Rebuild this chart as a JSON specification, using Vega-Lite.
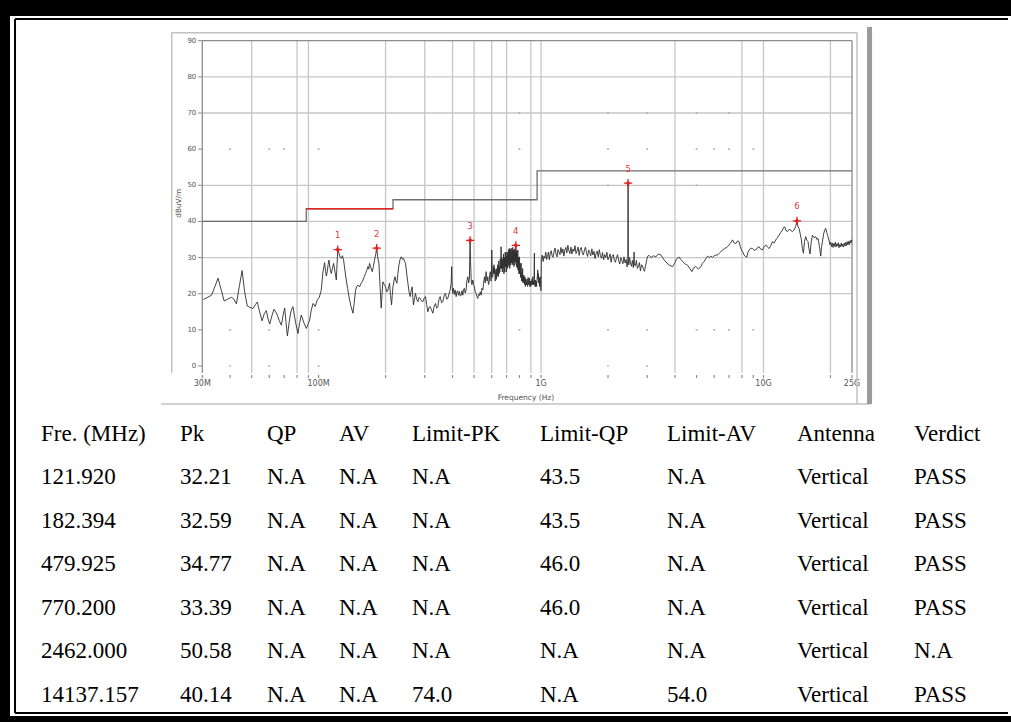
{
"$schema": "https://vega.github.io/schema/vega-lite/v6.json",
"width": 1001, "height": 700,
"autosize": {"type": "none"},
"padding": {"left": 10, "top": 16, "right": 0, "bottom": 6},
"background": "black",
"config": {"view": {"fill": "white", "stroke": null}},
"datasets": {
"tr": [
{"f":30.3,"v":18.4},{"f":31.5,"v":18.9},{"f":33.0,"v":19.6},{"f":34.2,"v":22.0},{"f":35.3,"v":24.3},{"f":36.5,"v":21.0},{"f":37.6,"v":18.0},{"f":39.0,"v":18.5},{"f":40.6,"v":19.0},{"f":41.6,"v":18.5},{"f":42.7,"v":17.2},{"f":44.0,"v":22.0},{"f":45.3,"v":26.4},{"f":46.5,"v":20.5},{"f":47.8,"v":16.6},{"f":49.2,"v":16.2},{"f":50.7,"v":15.9},{"f":52.0,"v":17.0},{"f":53.0,"v":17.7},{"f":54.3,"v":15.0},{"f":55.7,"v":12.5},{"f":57.0,"v":14.5},{"f":58.2,"v":15.3},{"f":59.3,"v":13.0},{"f":60.3,"v":11.6},{"f":61.6,"v":13.8},{"f":63.0,"v":15.7},{"f":64.1,"v":15.0},{"f":65.2,"v":14.1},{"f":66.6,"v":12.5},{"f":68.0,"v":11.3},{"f":69.2,"v":14.0},{"f":70.4,"v":16.0},{"f":71.4,"v":12.0},{"f":72.4,"v":8.3},{"f":73.7,"v":12.0},{"f":74.9,"v":14.8},{"f":75.8,"v":15.8},{"f":76.7,"v":16.4},{"f":78.8,"v":12.0},{"f":80.8,"v":9.0},{"f":82.2,"v":12.0},{"f":83.6,"v":14.1},{"f":85.8,"v":12.0},{"f":88.1,"v":10.4},{"f":89.6,"v":11.5},{"f":91.1,"v":12.7},{"f":92.7,"v":15.5},{"f":94.4,"v":17.3},{"f":96.5,"v":16.5},{"f":98.7,"v":18.3},{"f":100.7,"v":19.0},{"f":102.8,"v":21.0},{"f":104.6,"v":26.0},{"f":106.4,"v":28.6},{"f":107.4,"v":26.5},{"f":108.3,"v":24.9},{"f":109.4,"v":26.1},{"f":110.3,"v":28.0},{"f":111.3,"v":29.3},{"f":112.6,"v":27.0},{"f":114.0,"v":25.6},{"f":115.4,"v":27.0},{"f":116.8,"v":28.4},{"f":118.5,"v":26.0},{"f":120.1,"v":23.8},{"f":121.0,"v":28.0},{"f":121.92,"v":32.21},{"f":123.5,"v":31.2},{"f":125.0,"v":30.0},{"f":126.5,"v":29.8},{"f":128.0,"v":30.5},{"f":129.5,"v":29.3},{"f":131.3,"v":26.5},{"f":133.1,"v":23.8},{"f":135.0,"v":21.5},{"f":136.9,"v":19.2},{"f":139.8,"v":16.5},{"f":142.7,"v":14.6},{"f":144.6,"v":17.5},{"f":146.6,"v":21.0},{"f":148.5,"v":22.0},{"f":150.3,"v":22.4},{"f":152.8,"v":21.9},{"f":155.0,"v":22.8},{"f":157.1,"v":23.3},{"f":160.0,"v":24.5},{"f":162.6,"v":25.6},{"f":164.6,"v":26.5},{"f":166.7,"v":27.5},{"f":168.0,"v":26.8},{"f":169.4,"v":28.4},{"f":171.8,"v":27.2},{"f":174.2,"v":26.1},{"f":176.3,"v":27.5},{"f":178.4,"v":29.3},{"f":180.5,"v":30.8},{"f":182.394,"v":32.59},{"f":184.5,"v":30.0},{"f":186.7,"v":28.4},{"f":188.9,"v":22.0},{"f":191.2,"v":16.0},{"f":192.9,"v":20.0},{"f":194.6,"v":23.3},{"f":197.3,"v":22.5},{"f":200.0,"v":21.9},{"f":202.5,"v":20.5},{"f":205.0,"v":21.0},{"f":206.7,"v":22.0},{"f":208.5,"v":22.9},{"f":210.6,"v":19.5},{"f":212.8,"v":16.9},{"f":214.3,"v":19.5},{"f":215.9,"v":21.9},{"f":218.1,"v":23.5},{"f":220.4,"v":24.7},{"f":222.6,"v":23.5},{"f":224.9,"v":22.9},{"f":227.2,"v":25.5},{"f":229.6,"v":27.9},{"f":232.4,"v":29.5},{"f":235.2,"v":30.2},{"f":238.0,"v":29.5},{"f":240.8,"v":29.8},{"f":243.3,"v":29.0},{"f":245.9,"v":28.4},{"f":249.0,"v":25.5},{"f":252.0,"v":22.9},{"f":255.0,"v":20.5},{"f":258.0,"v":19.2},{"f":260.7,"v":20.8},{"f":263.4,"v":21.9},{"f":265.2,"v":19.0},{"f":267.0,"v":16.9},{"f":269.8,"v":18.5},{"f":272.6,"v":20.1},{"f":276.0,"v":18.5},{"f":279.4,"v":17.8},{"f":282.8,"v":19.0},{"f":286.2,"v":18.7},{"f":290.2,"v":18.0},{"f":294.3,"v":17.8},{"f":298.3,"v":18.8},{"f":302.3,"v":19.2},{"f":306.1,"v":17.0},{"f":309.9,"v":15.0},{"f":313.6,"v":16.2},{"f":317.4,"v":16.4},{"f":321.9,"v":15.5},{"f":326.4,"v":14.6},{"f":330.8,"v":16.5},{"f":335.3,"v":17.3},{"f":339.5,"v":16.0},{"f":343.7,"v":16.4},{"f":347.8,"v":18.5},{"f":352.0,"v":19.2},{"f":357.0,"v":17.5},{"f":361.9,"v":17.8},{"f":366.8,"v":19.5},{"f":371.8,"v":20.1},{"f":376.4,"v":18.5},{"f":381.1,"v":18.7},{"f":385.7,"v":20.0},{"f":390.3,"v":21.0},{"f":394.5,"v":23.0},{"f":396.5,"v":27.5},{"f":398.5,"v":22.0},{"f":401.3,"v":20.1},{"f":404.0,"v":21.5},{"f":408,"v":19.8},{"f":411.5,"v":21.0},{"f":415.2,"v":19.2},{"f":418.5,"v":20.5},{"f":422,"v":20.8},{"f":425.8,"v":19.6},{"f":429.6,"v":20.6},{"f":433,"v":19.4},{"f":437,"v":19.5},{"f":441,"v":20.8},{"f":445.0,"v":19.6},{"f":448.5,"v":21.2},{"f":452,"v":21.5},{"f":456,"v":20.2},{"f":460.5,"v":21.0},{"f":464,"v":23.5},{"f":468.7,"v":24.7},{"f":473,"v":23.0},{"f":476.4,"v":24.3},{"f":478,"v":30.0},{"f":479.925,"v":34.77},{"f":482,"v":29.0},{"f":485,"v":24.0},{"f":489,"v":22.5},{"f":493.6,"v":23.8},{"f":497.5,"v":22.5},{"f":501.8,"v":21.9},{"f":506,"v":20.5},{"f":510.7,"v":20.1},{"f":515,"v":19.2},{"f":519.7,"v":18.7},{"f":524,"v":19.8},{"f":528,"v":19.5},{"f":533,"v":20.5},{"f":537.8,"v":19.6},{"f":542.5,"v":21.5},{"f":547.3,"v":21.0},{"f":552,"v":23.0},{"f":556.5,"v":24.7},{"f":561,"v":23.0},{"f":566.3,"v":26.1},{"f":571,"v":23.5},{"f":576.4,"v":24.7},{"f":580,"v":22.5},{"f":584,"v":23.0},{"f":588,"v":25.5},{"f":592.0,"v":26.1},{"f":596,"v":23.5},{"f":598.5,"v":25.0},{"f":600.6,"v":32.1},{"f":603,"v":24.5},{"f":606.9,"v":24.7},{"f":609.5,"v":27.5},{"f":612,"v":25.5},{"f":614.5,"v":28.0},{"f":617.0,"v":25.6},{"f":619.5,"v":27.0},{"f":622,"v":23.5},{"f":625,"v":26.0},{"f":627.9,"v":26.6},{"f":630.5,"v":24.0},{"f":633,"v":27.0},{"f":636,"v":25.0},{"f":639.2,"v":28.0},{"f":642,"v":24.7},{"f":645,"v":29.0},{"f":647.5,"v":25.5},{"f":649.9,"v":27.5},{"f":652.5,"v":26.0},{"f":655,"v":29.5},{"f":658,"v":27.0},{"f":661.4,"v":33.0},{"f":663.5,"v":27.0},{"f":667,"v":30.0},{"f":670,"v":26.0},{"f":673.0,"v":29.5},{"f":675.5,"v":27.0},{"f":678,"v":31.0},{"f":681,"v":25.5},{"f":684.3,"v":30.0},{"f":687,"v":26.0},{"f":690,"v":31.5},{"f":693,"v":27.5},{"f":696.4,"v":31.5},{"f":699,"v":26.0},{"f":702,"v":30.5},{"f":705,"v":27.0},{"f":708.8,"v":31.5},{"f":711,"v":27.5},{"f":714,"v":32.2},{"f":717,"v":28.0},{"f":720.6,"v":32.5},{"f":723.5,"v":27.0},{"f":727,"v":32.0},{"f":730,"v":28.0},{"f":733.4,"v":32.6},{"f":736.5,"v":28.5},{"f":740,"v":32.3},{"f":743,"v":28.0},{"f":746.3,"v":32.8},{"f":749,"v":28.5},{"f":752,"v":32.0},{"f":755.5,"v":27.5},{"f":758.9,"v":32.4},{"f":762,"v":28.0},{"f":765,"v":31.5},{"f":767.5,"v":29.0},{"f":770.2,"v":33.39},{"f":772.5,"v":28.5},{"f":775,"v":31.5},{"f":777,"v":27.5},{"f":779,"v":32.0},{"f":782.5,"v":27.0},{"f":786.1,"v":32.1},{"f":789,"v":26.5},{"f":792,"v":30.0},{"f":795.5,"v":25.5},{"f":799.2,"v":30.2},{"f":802,"v":25.5},{"f":805,"v":28.5},{"f":809,"v":24.5},{"f":813.4,"v":28.4},{"f":817,"v":23.5},{"f":821.8,"v":26.0},{"f":824,"v":23.5},{"f":826,"v":27.0},{"f":829.5,"v":23.0},{"f":832.9,"v":25.0},{"f":836.5,"v":23.0},{"f":840,"v":25.0},{"f":844,"v":22.5},{"f":847.7,"v":24.5},{"f":851,"v":22.0},{"f":855,"v":24.0},{"f":860,"v":22.5},{"f":865.3,"v":24.0},{"f":870,"v":22.0},{"f":875,"v":24.5},{"f":880,"v":22.5},{"f":886.2,"v":24.3},{"f":890,"v":22.0},{"f":895,"v":23.5},{"f":898.5,"v":22.0},{"f":902.0,"v":23.5},{"f":906,"v":22.5},{"f":910,"v":24.0},{"f":914,"v":22.5},{"f":917.9,"v":24.7},{"f":921.5,"v":22.5},{"f":925,"v":23.5},{"f":929,"v":22.5},{"f":933.3,"v":31.2},{"f":935,"v":24.0},{"f":937,"v":23.0},{"f":940,"v":22.0},{"f":943.0,"v":23.8},{"f":946.5,"v":22.0},{"f":950,"v":23.5},{"f":954.5,"v":22.0},{"f":959.4,"v":23.8},{"f":963,"v":25.0},{"f":966,"v":26.6},{"f":969,"v":24.0},{"f":972.5,"v":25.6},{"f":976,"v":23.0},{"f":980,"v":24.5},{"f":984,"v":22.0},{"f":988,"v":24.0},{"f":992.9,"v":24.7},{"f":996,"v":22.0},{"f":999,"v":20.8},{"f":1001,"v":22.5},
{"f":1003,"v":29.3},{"f":1012,"v":30.7},{"f":1022,"v":28.9},{"f":1031,"v":30.4},{"f":1040,"v":29.8},{"f":1050,"v":31.5},{"f":1060,"v":29.5},{"f":1069,"v":30.3},{"f":1079,"v":31.5},{"f":1090,"v":29.4},{"f":1100,"v":31.3},{"f":1111,"v":31.9},{"f":1122,"v":30.4},{"f":1133,"v":30.1},{"f":1144,"v":31.6},{"f":1156,"v":32.6},{"f":1168,"v":31.0},{"f":1180,"v":30.2},{"f":1192,"v":32.2},{"f":1204,"v":31.5},{"f":1216,"v":30.8},{"f":1228,"v":32.8},{"f":1241,"v":31.2},{"f":1254,"v":32.4},{"f":1267,"v":30.4},{"f":1280,"v":32.1},{"f":1293,"v":32.8},{"f":1306,"v":31.3},{"f":1320,"v":33.4},{"f":1334,"v":31.9},{"f":1348,"v":31.1},{"f":1362,"v":32.9},{"f":1376,"v":31.0},{"f":1391,"v":32.4},{"f":1406,"v":31.7},{"f":1421,"v":33.3},{"f":1436,"v":31.1},{"f":1452,"v":31.8},{"f":1468,"v":32.9},{"f":1484,"v":30.6},{"f":1500,"v":32.4},{"f":1516,"v":32.8},{"f":1533,"v":31.2},{"f":1550,"v":30.7},{"f":1567,"v":32.1},{"f":1584,"v":32.9},{"f":1601,"v":31.3},{"f":1619,"v":30.3},{"f":1637,"v":32.1},{"f":1655,"v":31.4},{"f":1673,"v":30.5},{"f":1692,"v":32.4},{"f":1711,"v":30.7},{"f":1730,"v":31.7},{"f":1749,"v":29.7},{"f":1768,"v":31.2},{"f":1788,"v":31.8},{"f":1808,"v":30.2},{"f":1828,"v":32.2},{"f":1848,"v":30.6},{"f":1869,"v":29.8},{"f":1890,"v":31.4},{"f":1911,"v":29.4},{"f":1932,"v":30.8},{"f":1954,"v":30.0},{"f":1976,"v":31.5},{"f":1998,"v":29.4},{"f":2020,"v":30.0},{"f":2043,"v":31.0},{"f":2066,"v":28.7},{"f":2089,"v":30.4},{"f":2112,"v":30.8},{"f":2136,"v":29.2},{"f":2160,"v":28.7},{"f":2184,"v":30.0},{"f":2208,"v":30.8},{"f":2233,"v":29.2},{"f":2258,"v":28.2},{"f":2283,"v":30.0},{"f":2308,"v":29.2},{"f":2334,"v":28.3},{"f":2360,"v":30.2},{"f":2386,"v":28.5},{"f":2412,"v":29.5},{"f":2438,"v":27.4},{"f":2455,"v":29.3},{"f":2462,"v":50.58},{"f":2469,"v":29.6},{"f":2480,"v":28.0},{"f":2500,"v":30.0},{"f":2525,"v":28.5},{"f":2550,"v":27.6},{"f":2575,"v":29.2},{"f":2600,"v":27.2},{"f":2620,"v":31.5},{"f":2628,"v":27.9},{"f":2655,"v":27.7},{"f":2683,"v":29.2},{"f":2711,"v":27.0},{"f":2740,"v":27.6},{"f":2769,"v":28.6},{"f":2798,"v":26.3},{"f":2828,"v":28.0},{"f":2858,"v":27.8},{"f":2888,"v":26.7},{"f":2918,"v":26.2},{"f":2945,"v":27.6},{"f":2970,"v":28.5},{"f":2990,"v":29.5},{"f":3015,"v":30.4},{"f":3060,"v":30.6},{"f":3119,"v":30.0},{"f":3200,"v":30.5},{"f":3284,"v":30.2},{"f":3370,"v":31.0},{"f":3458,"v":30.7},{"f":3520,"v":30.0},{"f":3578,"v":29.3},{"f":3680,"v":28.5},{"f":3769,"v":27.9},{"f":3904,"v":27.5},{"f":4000,"v":28.6},{"f":4039,"v":29.3},{"f":4100,"v":29.8},{"f":4179,"v":30.1},{"f":4250,"v":29.5},{"f":4329,"v":28.9},{"f":4450,"v":28.2},{"f":4557,"v":27.9},{"f":4660,"v":27.0},{"f":4766,"v":26.1},{"f":4860,"v":27.2},{"f":4966,"v":27.5},{"f":5100,"v":26.8},{"f":5231,"v":27.5},{"f":5320,"v":28.4},{"f":5413,"v":28.9},{"f":5510,"v":29.8},{"f":5608,"v":30.4},{"f":5700,"v":30.0},{"f":5802,"v":30.4},{"f":5900,"v":30.0},{"f":6000,"v":30.5},{"f":6108,"v":30.7},{"f":6220,"v":30.7},{"f":6380,"v":31.4},{"f":6540,"v":32.1},{"f":6700,"v":32.5},{"f":6890,"v":33.0},{"f":7070,"v":33.8},{"f":7260,"v":34.9},{"f":7380,"v":34.0},{"f":7510,"v":33.9},{"f":7640,"v":34.6},{"f":7770,"v":34.4},{"f":7870,"v":33.0},{"f":7960,"v":32.1},{"f":8070,"v":31.5},{"f":8180,"v":30.7},{"f":8300,"v":30.3},{"f":8410,"v":30.1},{"f":8500,"v":31.3},{"f":8610,"v":32.1},{"f":8770,"v":32.6},{"f":8930,"v":32.5},{"f":9080,"v":32.0},{"f":9230,"v":32.1},{"f":9400,"v":32.8},{"f":9550,"v":33.0},{"f":9720,"v":32.3},{"f":9900,"v":32.1},{"f":10070,"v":33.0},{"f":10240,"v":33.5},{"f":10420,"v":32.9},{"f":10600,"v":32.5},{"f":10790,"v":33.3},{"f":10970,"v":34.4},{"f":11160,"v":34.0},{"f":11360,"v":34.9},{"f":11550,"v":35.5},{"f":11750,"v":36.2},{"f":11960,"v":37.0},{"f":12170,"v":37.6},{"f":12300,"v":38.3},{"f":12460,"v":38.5},{"f":12640,"v":37.4},{"f":12820,"v":37.2},{"f":13040,"v":37.8},{"f":13260,"v":37.6},{"f":13490,"v":37.2},{"f":13720,"v":37.6},{"f":13950,"v":38.6},{"f":14137.157,"v":40.14},{"f":14300,"v":38.5},{"f":14450,"v":38.1},{"f":14630,"v":36.5},{"f":14810,"v":34.9},{"f":14960,"v":32.5},{"f":15120,"v":31.2},{"f":15300,"v":34.5},{"f":15480,"v":35.8},{"f":15670,"v":34.8},{"f":15860,"v":34.4},{"f":16000,"v":32.5},{"f":16190,"v":31.0},{"f":16400,"v":34.5},{"f":16600,"v":36.2},{"f":16880,"v":35.5},{"f":17170,"v":35.8},{"f":17380,"v":35.0},{"f":17590,"v":35.3},{"f":17850,"v":33.0},{"f":18090,"v":30.4},{"f":18250,"v":33.0},{"f":18410,"v":34.4},{"f":18630,"v":36.5},{"f":18850,"v":37.6},{"f":19050,"v":38.1},{"f":19240,"v":37.0},{"f":19500,"v":35.8},{"f":19700,"v":34.8},{"f":19910,"v":33.5},{"f":20100,"v":34.2},{"f":20250,"v":33.0},{"f":20400,"v":34.0},{"f":20560,"v":32.8},{"f":20720,"v":33.9},{"f":20880,"v":33.1},{"f":21040,"v":34.3},{"f":21200,"v":32.9},{"f":21360,"v":33.8},{"f":21520,"v":33.2},{"f":21680,"v":34.1},{"f":21850,"v":32.7},{"f":22020,"v":33.6},{"f":22190,"v":33.0},{"f":22360,"v":34.0},{"f":22530,"v":33.1},{"f":22700,"v":33.7},{"f":22880,"v":32.9},{"f":23060,"v":34.0},{"f":23240,"v":33.2},{"f":23420,"v":34.2},{"f":23600,"v":33.3},{"f":23790,"v":34.4},{"f":23970,"v":33.5},{"f":24160,"v":34.5},{"f":24350,"v":33.6},{"f":24540,"v":34.7},{"f":24730,"v":34.0},{"f":24900,"v":34.9},{"f":25000,"v":34.5}
],
"mk": [{"n":"1","f":121.92,"v":32.21},{"n":"2","f":182.394,"v":32.59},{"n":"3","f":479.925,"v":34.77},{"n":"4","f":770.2,"v":33.39},{"n":"5","f":2462,"v":50.58},{"n":"6","f":14137.157,"v":40.14}],
"lim": [{"f":30,"v":40},{"f":88,"v":43.5},{"f":216,"v":46},{"f":960,"v":54},{"f":25000,"v":54}],
"limr": [{"f":88,"v":43.5},{"f":216,"v":43.5}],
"vg": [{"f":50},{"f":80},{"f":90},{"f":200},{"f":300},{"f":400},{"f":500},{"f":600},{"f":700},{"f":900},{"f":1000},{"f":4000},{"f":8000},{"f":10000},{"f":20000}],
"hg": [{"v":20},{"v":30},{"v":40},{"v":50},{"v":70},{"v":80}],
"yl": [{"v":0},{"v":10},{"v":20},{"v":30},{"v":40},{"v":50},{"v":60},{"v":70},{"v":80},{"v":90}],
"xl": [{"f":30,"l":"30M"},{"f":100,"l":"100M"},{"f":1000,"l":"1G"},{"f":10000,"l":"10G"},{"f":25000,"l":"25G"}],
"xt": [{"f":30},{"f":40},{"f":50},{"f":60},{"f":70},{"f":80},{"f":90},{"f":100},{"f":200},{"f":300},{"f":400},{"f":500},{"f":600},{"f":700},{"f":800},{"f":900},{"f":1000},{"f":2000},{"f":3000},{"f":4000},{"f":5000},{"f":6000},{"f":7000},{"f":8000},{"f":9000},{"f":10000},{"f":20000},{"f":25000}],
"dots": [{"f":40,"v":10},{"f":60,"v":10},{"f":100,"v":10},{"f":800,"v":10},{"f":2000,"v":10},{"f":3000,"v":10},{"f":5000,"v":10},{"f":6000,"v":10},{"f":7000,"v":10},{"f":9000,"v":10},{"f":40,"v":60},{"f":60,"v":60},{"f":70,"v":60},{"f":100,"v":60},{"f":800,"v":60},{"f":2000,"v":60},{"f":3000,"v":60},{"f":5000,"v":60},{"f":6000,"v":60},{"f":7000,"v":60},{"f":9000,"v":60},{"f":800,"v":70},{"f":2000,"v":70},{"f":3000,"v":70},{"f":5000,"v":70},{"f":7000,"v":70},{"f":2000,"v":50},{"f":5000,"v":50},{"f":2000,"v":0},{"f":3000,"v":0},{"f":40,"v":0},{"f":60,"v":0},{"f":100,"v":0}],
"tbl": [
{"r":0,"c":0,"t":"Fre. (MHz)"},{"r":0,"c":1,"t":"Pk"},{"r":0,"c":2,"t":"QP"},{"r":0,"c":3,"t":"AV"},{"r":0,"c":4,"t":"Limit-PK"},{"r":0,"c":5,"t":"Limit-QP"},{"r":0,"c":6,"t":"Limit-AV"},{"r":0,"c":7,"t":"Antenna"},{"r":0,"c":8,"t":"Verdict"},
{"r":1,"c":0,"t":"121.920"},{"r":1,"c":1,"t":"32.21"},{"r":1,"c":2,"t":"N.A"},{"r":1,"c":3,"t":"N.A"},{"r":1,"c":4,"t":"N.A"},{"r":1,"c":5,"t":"43.5"},{"r":1,"c":6,"t":"N.A"},{"r":1,"c":7,"t":"Vertical"},{"r":1,"c":8,"t":"PASS"},
{"r":2,"c":0,"t":"182.394"},{"r":2,"c":1,"t":"32.59"},{"r":2,"c":2,"t":"N.A"},{"r":2,"c":3,"t":"N.A"},{"r":2,"c":4,"t":"N.A"},{"r":2,"c":5,"t":"43.5"},{"r":2,"c":6,"t":"N.A"},{"r":2,"c":7,"t":"Vertical"},{"r":2,"c":8,"t":"PASS"},
{"r":3,"c":0,"t":"479.925"},{"r":3,"c":1,"t":"34.77"},{"r":3,"c":2,"t":"N.A"},{"r":3,"c":3,"t":"N.A"},{"r":3,"c":4,"t":"N.A"},{"r":3,"c":5,"t":"46.0"},{"r":3,"c":6,"t":"N.A"},{"r":3,"c":7,"t":"Vertical"},{"r":3,"c":8,"t":"PASS"},
{"r":4,"c":0,"t":"770.200"},{"r":4,"c":1,"t":"33.39"},{"r":4,"c":2,"t":"N.A"},{"r":4,"c":3,"t":"N.A"},{"r":4,"c":4,"t":"N.A"},{"r":4,"c":5,"t":"46.0"},{"r":4,"c":6,"t":"N.A"},{"r":4,"c":7,"t":"Vertical"},{"r":4,"c":8,"t":"PASS"},
{"r":5,"c":0,"t":"2462.000"},{"r":5,"c":1,"t":"50.58"},{"r":5,"c":2,"t":"N.A"},{"r":5,"c":3,"t":"N.A"},{"r":5,"c":4,"t":"N.A"},{"r":5,"c":5,"t":"N.A"},{"r":5,"c":6,"t":"N.A"},{"r":5,"c":7,"t":"Vertical"},{"r":5,"c":8,"t":"N.A"},
{"r":6,"c":0,"t":"14137.157"},{"r":6,"c":1,"t":"40.14"},{"r":6,"c":2,"t":"N.A"},{"r":6,"c":3,"t":"N.A"},{"r":6,"c":4,"t":"74.0"},{"r":6,"c":5,"t":"N.A"},{"r":6,"c":6,"t":"54.0"},{"r":6,"c":7,"t":"Vertical"},{"r":6,"c":8,"t":"PASS"}
]
},
"layer": [
{
"layer": [
{"data": {"name": "vg"}, "mark": {"type": "rule", "color": "#c6c6c6", "strokeWidth": 1.3},
 "encoding": {"x": {"field": "f", "type": "quantitative", "scale": {"type": "log", "domain": [30, 25000], "range": [192.3, 842]}, "axis": null},
  "y": {"datum": -1.9, "scale": {"domain": [0, 90], "range": [350, 24.7], "nice": false, "zero": false}, "axis": null}, "y2": {"datum": 90}}},
{"data": {"name": "hg"}, "mark": {"type": "rule", "color": "#c6c6c6", "strokeWidth": 1.3},
 "encoding": {"y": {"field": "v", "type": "quantitative", "scale": {"domain": [0, 90], "range": [350, 24.7], "nice": false, "zero": false}, "axis": null},
  "x": {"datum": 30, "scale": {"type": "log", "domain": [30, 25000], "range": [192.3, 842]}, "axis": null}, "x2": {"datum": 25000}}},
{"data": {"name": "dots"}, "mark": {"type": "point", "shape": "square", "filled": true, "size": 3, "color": "#b0b0b0", "opacity": 1},
 "encoding": {"x": {"field": "f", "type": "quantitative", "scale": {"type": "log", "domain": [30, 25000], "range": [192.3, 842]}, "axis": null},
  "y": {"field": "v", "type": "quantitative", "scale": {"domain": [0, 90], "range": [350, 24.7], "nice": false, "zero": false}, "axis": null}}},
{"data": {"values": [{"k": "top"}]}, "mark": {"type": "rule", "color": "#8c8c8c", "strokeWidth": 1.3},
 "encoding": {"x": {"datum": 30, "scale": {"type": "log", "domain": [30, 25000], "range": [192.3, 842]}, "axis": null}, "x2": {"datum": 25000},
  "y": {"datum": 90, "scale": {"domain": [0, 90], "range": [350, 24.7], "nice": false, "zero": false}, "axis": null}}},
{"data": {"name": "xt"}, "mark": {"type": "rule", "color": "#8a8a8a", "strokeWidth": 1.2},
 "encoding": {"x": {"field": "f", "type": "quantitative", "scale": {"type": "log", "domain": [30, 25000], "range": [192.3, 842]}, "axis": null},
  "y": {"datum": -2.5, "scale": {"domain": [0, 90], "range": [350, 24.7], "nice": false, "zero": false}, "axis": null}, "y2": {"datum": -3.3}}},
{"data": {"values": [{"e": 30}, {"e": 25000}]}, "mark": {"type": "rule", "color": "#8c8c8c", "strokeWidth": 1.3},
 "encoding": {"x": {"field": "e", "type": "quantitative", "scale": {"type": "log", "domain": [30, 25000], "range": [192.3, 842]}, "axis": null},
  "y": {"datum": -1.9, "scale": {"domain": [0, 90], "range": [350, 24.7], "nice": false, "zero": false}, "axis": null}, "y2": {"datum": 90}}},
{"data": {"name": "yl"}, "mark": {"type": "rule", "color": "#8c8c8c", "strokeWidth": 1},
 "encoding": {"y": {"field": "v", "type": "quantitative", "scale": {"domain": [0, 90], "range": [350, 24.7], "nice": false, "zero": false}, "axis": null},
  "x": {"datum": 28.7, "scale": {"type": "log", "domain": [30, 25000], "range": [192.3, 842]}, "axis": null}, "x2": {"datum": 30}}},
{"data": {"name": "yl"}, "mark": {"type": "text", "align": "right", "baseline": "middle", "dx": -6, "font": "DejaVu Sans", "fontSize": 7, "color": "#555555"},
 "encoding": {"y": {"field": "v", "type": "quantitative", "scale": {"domain": [0, 90], "range": [350, 24.7], "nice": false, "zero": false}, "axis": null},
  "x": {"datum": 30, "scale": {"type": "log", "domain": [30, 25000], "range": [192.3, 842]}, "axis": null}, "text": {"field": "v"}}},
{"data": {"name": "xl"}, "mark": {"type": "text", "align": "center", "baseline": "middle", "dy": 18.3, "font": "DejaVu Sans", "fontSize": 8, "color": "#555555"},
 "encoding": {"x": {"field": "f", "type": "quantitative", "scale": {"type": "log", "domain": [30, 25000], "range": [192.3, 842]}, "axis": null},
  "y": {"datum": 0, "scale": {"domain": [0, 90], "range": [350, 24.7], "nice": false, "zero": false}, "axis": null}, "text": {"field": "l"}}},
{"data": {"values": [{"t": "Frequency (Hz)"}]}, "mark": {"type": "text", "align": "center", "baseline": "middle", "dy": 32, "font": "DejaVu Sans", "fontSize": 7.5, "color": "#555555"},
 "encoding": {"x": {"datum": 855, "scale": {"type": "log", "domain": [30, 25000], "range": [192.3, 842]}, "axis": null},
  "y": {"datum": 0, "scale": {"domain": [0, 90], "range": [350, 24.7], "nice": false, "zero": false}, "axis": null}, "text": {"field": "t"}}},
{"data": {"values": [{"t": "dBuV/m"}]}, "mark": {"type": "text", "align": "center", "baseline": "middle", "angle": 270, "font": "DejaVu Sans", "fontSize": 7.3, "color": "#555555"},
 "encoding": {"x": {"datum": 23.45, "scale": {"type": "log", "domain": [30, 25000], "range": [192.3, 842]}, "axis": null},
  "y": {"datum": 45, "scale": {"domain": [0, 90], "range": [350, 24.7], "nice": false, "zero": false}, "axis": null}, "text": {"field": "t"}}},
{"data": {"name": "lim"}, "mark": {"type": "line", "interpolate": "step-after", "color": "#6e6e6e", "strokeWidth": 1.3},
 "encoding": {"x": {"field": "f", "type": "quantitative", "scale": {"type": "log", "domain": [30, 25000], "range": [192.3, 842]}, "axis": null},
  "y": {"field": "v", "type": "quantitative", "scale": {"domain": [0, 90], "range": [350, 24.7], "nice": false, "zero": false}, "axis": null}}},
{"data": {"name": "limr"}, "mark": {"type": "line", "color": "#e02424", "strokeWidth": 1.6},
 "encoding": {"x": {"field": "f", "type": "quantitative", "scale": {"type": "log", "domain": [30, 25000], "range": [192.3, 842]}, "axis": null},
  "y": {"field": "v", "type": "quantitative", "scale": {"domain": [0, 90], "range": [350, 24.7], "nice": false, "zero": false}, "axis": null}}},
{"data": {"name": "tr"}, "mark": {"type": "line", "color": "#2e2e2e", "strokeWidth": 0.9},
 "encoding": {"x": {"field": "f", "type": "quantitative", "scale": {"type": "log", "domain": [30, 25000], "range": [192.3, 842]}, "axis": null},
  "y": {"field": "v", "type": "quantitative", "scale": {"domain": [0, 90], "range": [350, 24.7], "nice": false, "zero": false}, "axis": null}}},
{"data": {"name": "mk"}, "mark": {"type": "point", "shape": "M-1,0L1,0M0,-1L0,1", "size": 70, "filled": false, "color": "#e02020", "strokeWidth": 1.3, "opacity": 1},
 "encoding": {"x": {"field": "f", "type": "quantitative", "scale": {"type": "log", "domain": [30, 25000], "range": [192.3, 842]}, "axis": null},
  "y": {"field": "v", "type": "quantitative", "scale": {"domain": [0, 90], "range": [350, 24.7], "nice": false, "zero": false}, "axis": null}}},
{"data": {"name": "mk"}, "mark": {"type": "point", "shape": "circle", "size": 9, "filled": false, "color": "#e02020", "strokeWidth": 1, "opacity": 1},
 "encoding": {"x": {"field": "f", "type": "quantitative", "scale": {"type": "log", "domain": [30, 25000], "range": [192.3, 842]}, "axis": null},
  "y": {"field": "v", "type": "quantitative", "scale": {"domain": [0, 90], "range": [350, 24.7], "nice": false, "zero": false}, "axis": null}}},
{"data": {"name": "mk"}, "mark": {"type": "text", "align": "center", "baseline": "middle", "dy": -14.5, "font": "DejaVu Sans", "fontSize": 8.5, "color": "#e03a3a"},
 "encoding": {"x": {"field": "f", "type": "quantitative", "scale": {"type": "log", "domain": [30, 25000], "range": [192.3, 842]}, "axis": null},
  "y": {"field": "v", "type": "quantitative", "scale": {"domain": [0, 90], "range": [350, 24.7], "nice": false, "zero": false}, "axis": null}, "text": {"field": "n"}}},
{"data": {"values": [{"k": "frame"}]}, "mark": {"type": "rule", "color": "#c2c2c2", "strokeWidth": 1.5},
 "encoding": {"x": {"datum": 21.86, "scale": {"type": "log", "domain": [30, 25000], "range": [192.3, 842]}, "axis": null}, "x2": {"datum": 26328},
  "y": {"datum": 92.2, "scale": {"domain": [0, 90], "range": [350, 24.7], "nice": false, "zero": false}, "axis": null}}},
{"data": {"values": [{"k": "frame"}]}, "mark": {"type": "rule", "color": "#c2c2c2", "strokeWidth": 1.5},
 "encoding": {"x": {"datum": 21.86, "scale": {"type": "log", "domain": [30, 25000], "range": [192.3, 842]}, "axis": null},
  "y": {"datum": 92.2, "scale": {"domain": [0, 90], "range": [350, 24.7], "nice": false, "zero": false}, "axis": null}, "y2": {"datum": -1.9}}},
{"data": {"values": [{"k": "frame"}]}, "mark": {"type": "rule", "color": "#c2c2c2", "strokeWidth": 1.5},
 "encoding": {"x": {"datum": 19.56, "scale": {"type": "log", "domain": [30, 25000], "range": [192.3, 842]}, "axis": null}, "x2": {"datum": 30120},
  "y": {"datum": -10.5, "scale": {"domain": [0, 90], "range": [350, 24.7], "nice": false, "zero": false}, "axis": null}}},
{"data": {"values": [{"k": "frame"}]}, "mark": {"type": "rule", "color": "#c2c2c2", "strokeWidth": 1.5},
 "encoding": {"x": {"datum": 26328, "scale": {"type": "log", "domain": [30, 25000], "range": [192.3, 842]}, "axis": null},
  "y": {"datum": 92.2, "scale": {"domain": [0, 90], "range": [350, 24.7], "nice": false, "zero": false}, "axis": null}, "y2": {"datum": -10.5}}},
{"data": {"values": [{"k": "bar"}]}, "mark": {"type": "rule", "color": "#9a9a9a", "strokeWidth": 5},
 "encoding": {"x": {"datum": 29985, "scale": {"type": "log", "domain": [30, 25000], "range": [192.3, 842]}, "axis": null},
  "y": {"datum": 93.8, "scale": {"domain": [0, 90], "range": [350, 24.7], "nice": false, "zero": false}, "axis": null}, "y2": {"datum": -10.5}}},
{"data": {"values": [{"k": "inner"}]}, "mark": {"type": "rule", "color": "black", "strokeWidth": 2},
 "encoding": {"x": {"datum": 4.317, "scale": {"type": "log", "domain": [30, 25000], "range": [192.3, 842]}, "axis": null},
  "y": {"datum": 96.0, "scale": {"domain": [0, 90], "range": [350, 24.7], "nice": false, "zero": false}, "axis": null}, "y2": {"datum": -96.0}}},
{"data": {"values": [{"k": "inner"}]}, "mark": {"type": "rule", "color": "black", "strokeWidth": 2},
 "encoding": {"x": {"datum": 4.317, "scale": {"type": "log", "domain": [30, 25000], "range": [192.3, 842]}, "axis": null}, "x2": {"datum": 125700},
  "y": {"datum": 96.0, "scale": {"domain": [0, 90], "range": [350, 24.7], "nice": false, "zero": false}, "axis": null}}},
{"data": {"values": [{"k": "inner"}]}, "mark": {"type": "rule", "color": "black", "strokeWidth": 2},
 "encoding": {"x": {"datum": 4.317, "scale": {"type": "log", "domain": [30, 25000], "range": [192.3, 842]}, "axis": null}, "x2": {"datum": 125700},
  "y": {"datum": -96.0, "scale": {"domain": [0, 90], "range": [350, 24.7], "nice": false, "zero": false}, "axis": null}}}
]
},
{"data": {"name": "tbl"}, "mark": {"type": "text", "align": "left", "baseline": "alphabetic", "font": "Liberation Serif", "fontSize": 23, "color": "black"},
 "encoding": {"x": {"field": "c", "type": "quantitative", "scale": {"domain": [0, 1, 2, 3, 4, 5, 6, 7, 8], "range": [31, 170, 257, 329, 402, 530, 657, 787, 904], "nice": false, "zero": false}, "axis": null},
  "y": {"field": "r", "type": "quantitative", "scale": {"domain": [0, 6], "range": [425, 685.7], "nice": false, "zero": false}, "axis": null},
  "text": {"field": "t"}}}
],
"resolve": {"scale": {"x": "independent", "y": "independent"}}
}
